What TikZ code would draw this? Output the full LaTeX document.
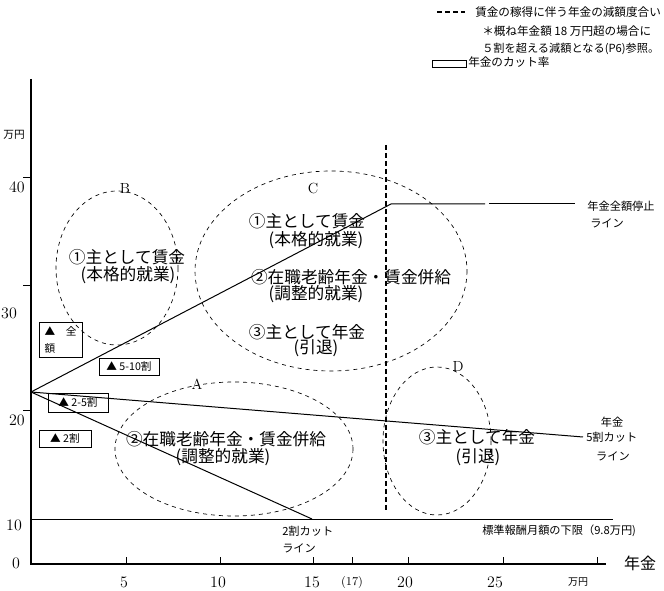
\documentclass[tikz,border=0pt]{standalone}
\usepackage{fontspec}
\newfontfamily\jp{Noto Sans CJK JP}
\begin{document}
\begin{tikzpicture}[x=0.75pt,y=-0.75pt,
  zone/.style={dash pattern=on 3pt off 3pt,line width=0.5pt},
  limit/.style={line width=2pt,dash pattern=on 3.6pt off 2.4pt},
  big/.style={font=\jp\fontsize{12.5}{15}\selectfont,inner sep=0pt},
  small/.style={font=\jp\fontsize{8.4}{10}\selectfont,inner sep=0pt},
  note/.style={font=\jp\fontsize{8.7}{10}\selectfont,inner sep=0pt,anchor=west},
  num/.style={font=\fontsize{12}{14}\selectfont,inner sep=0pt},
  cutbox/.style={draw,font=\jp\fontsize{8}{12.75}\selectfont,inner sep=0pt,align=left}]
\useasboundingbox (0,0) rectangle (664,591);

% legend
\coordinate (l1) at (437,12);
\coordinate (l2) at (465,12);
\node[note] (leg1) at (475,12) {賃金の稼得に伴う年金の減額度合い};
\node[note] (leg2) at (482,31) {＊概ね年金額 18 万円超の場合に};
\node[note,font=\jp\fontsize{8.4}{10}\selectfont] (leg3) at (482,49) {５割を超える減額となる(P6)参照。};
\node[draw,minimum width=25.5pt,minimum height=5.25pt,inner sep=0pt] (legbox) at (449,63.5) {};
\node[note] (leg4) at (468,62) {年金のカット率};
\path[draw,limit] (l1) -- (l2);

% axes
\coordinate (O) at (31,564);
\coordinate (ytop) at (31,79);
\coordinate (xend) at (606,564);
\path[draw,line width=0.9pt] (ytop) -- (O) -- (xend);
\node[small,font=\jp\fontsize{8}{10}\selectfont] (yunit) at (14,135) {万円};
\foreach \y/\ly/\lx/\t in {177/187/17/40, 285/313/9/30, 410/420/17/20} {
  \path[draw,line width=0.7pt] (23,\y) -- (31,\y);
  \node[num] (y\t) at (\lx,\ly) {\t};
}
\node[num] (y10) at (14,525) {10};
\node[num] (y0) at (16,563) {0};
\foreach \x/\lx/\t in {126/124/5, 220/218/10, 313/312/15, 408/405/20, 503/495/25} {
  \path[draw,line width=0.7pt] (\x,557) -- (\x,564);
  \node[num] (x\t) at (\lx,582) {\t};
}
\path[draw,line width=0.7pt] (352,557) -- (352,564);
\path[draw,line width=0.7pt] (597,557) -- (597,564);
\node[num,font=\fontsize{9}{11}\selectfont] (x17) at (352,582) {(17)};
\node[small,font=\jp\fontsize{7.5}{9}\selectfont] (xunit) at (578,582) {万円};
\node[big,font=\jp\fontsize{12}{14}\selectfont] (xname) at (640,563) {年金};

% floor of standard monthly pay
\coordinate (floorL) at (31,519);
\coordinate (floorR) at (613,519);
\path[draw,line width=0.75pt] (floorL) -- (floorR);
\node[small,anchor=west] (floor) at (482,531) {標準報酬月額の下限（9.8万円)};

% cut lines
\coordinate (src) at (31,392);
\coordinate (stopbend) at (391,204);
\coordinate (stopend) at (485,204);
\coordinate (stopgap) at (489,204);
\coordinate (stopline) at (575,204);
\coordinate (half) at (583,437);
\coordinate (fifth) at (312,519);
\path[draw,line width=0.75pt] (src) -- (stopbend) -- (stopend);
\path[draw,line width=0.75pt] (stopgap) -- (stopline);
\path[draw,line width=0.75pt] (src) -- (half);
\path[draw,line width=0.75pt] (src) -- (fifth);
\node[small] (stop1) at (621,206) {年金全額停止};
\node[small,anchor=west] (stop2) at (590,223) {ライン};
\node[small] (half1) at (612,422) {年金};
\node[small,anchor=west] (half2) at (586,437) {5割カット};
\node[small] (half3) at (613,456) {ライン};
\node[small,anchor=west] (fifth1) at (282,531) {2割カット};
\node[small,anchor=west] (fifth2) at (282,548) {ライン};

% wage line
\coordinate (capT) at (386,145);
\coordinate (capB) at (386,510);
\path[draw,limit] (capT) -- (capB);

% zones
\path[draw,zone] (117,268) ellipse [x radius=61, y radius=77];
\path[draw,zone] (331,271) ellipse [x radius=136, y radius=100];
\path[draw,zone] (234,449) ellipse [x radius=119, y radius=67];
\path[draw,zone] (437,441) ellipse [x radius=54, y radius=74];
\node[num,font=\fontsize{11}{13}\selectfont] (zB) at (125,188) {B};
\node[num,font=\fontsize{11}{13}\selectfont] (zC) at (313,188) {C};
\node[num,font=\fontsize{11}{13}\selectfont] (zA) at (197,384) {A};
\node[num,font=\fontsize{11}{13}\selectfont] (zD) at (458,366) {D};

\node[big] (b1) at (127,257) {①主として賃金};
\node[big] (b2) at (128,275) {(本格的就業)};
\node[big] (c1) at (307,221) {①主として賃金};
\node[big] (c2) at (316,240) {(本格的就業)};
\node[big] (c3) at (351,277) {②在職老齢年金・賃金併給};
\node[big] (c4) at (316,294) {(調整的就業)};
\node[big] (c5) at (307,332) {③主として年金};
\node[big] (c6) at (316,348) {(引退)};
\node[big] (a1) at (226,439) {②在職老齢年金・賃金併給};
\node[big] (a2) at (223,457) {(調整的就業)};
\node[big] (d1) at (477,437) {③主として年金};
\node[big] (d2) at (478,457) {(引退)};

% cut-rate boxes
\node[cutbox,minimum width=32.25pt,minimum height=26.25pt] (full) at (60.5,339.5) {▲\quad 全\\額};
\node[cutbox,minimum width=45pt,minimum height=12.75pt] (cut510) at (129,366.5) {▲ 5-10割};
\node[cutbox,minimum width=45pt,minimum height=14.25pt] (cut25) at (78,402.5) {▲ 2-5割};
\node[cutbox,minimum width=39pt,minimum height=12.75pt] (cut2) at (65,438.5) {▲ 2割};
\end{tikzpicture}
\end{document}
